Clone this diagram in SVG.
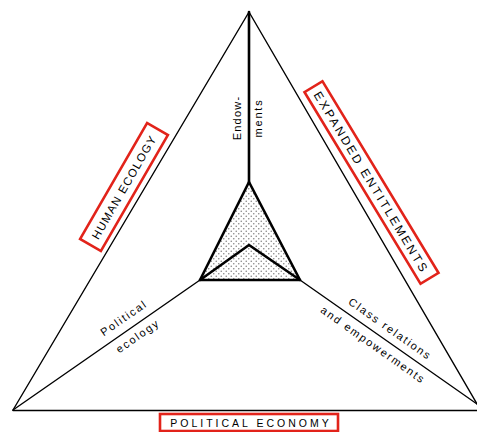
<svg xmlns="http://www.w3.org/2000/svg" width="477" height="432" viewBox="0 0 477 432">
<style>
.ln{stroke:#000;fill:none;stroke-linecap:round;stroke-linejoin:round}
.thin{stroke-width:1.4}
.thick{stroke-width:2.6}
.box{fill:#fff;stroke:#e2231a;stroke-width:2.6}
.t{font-family:"Liberation Sans",Arial,sans-serif;font-size:11px;fill:#000}
.cap{letter-spacing:1.2px}
</style>
<defs>
<pattern id="dots" width="5" height="5" patternUnits="userSpaceOnUse">
<rect width="5" height="5" fill="#fff"/>
<circle cx="1.25" cy="1.25" r="0.8" fill="#888"/>
<circle cx="3.75" cy="3.75" r="0.8" fill="#888"/>
</pattern>
</defs>
<rect width="477" height="432" fill="#fff"/>
<g id="connectors">
<path class="ln thin" d="M13,410 L249,12 L477,404"/>
<path class="ln thin" d="M13,410.5 L477,410.5"/>
<path class="ln thin" d="M13,410 L200,280"/>
<path class="ln thin" d="M300,280 L477,404"/>
<path class="ln thick" d="M249,12 L249,245"/>
</g>
<g id="inner">
<path d="M249,182 L200,280 L300,280 Z" fill="url(#dots)"/>
<path class="ln thick" d="M249,182 L200,280 L300,280 Z"/>
<path class="ln thick" d="M200,280 L249,245 L300,280"/>
</g>
<g id="endowments">
<text class="t" style="letter-spacing:1.2px" text-anchor="middle" transform="translate(241,118) rotate(-90)">Endow-</text>
<text class="t" style="letter-spacing:1.8px" text-anchor="middle" transform="translate(262,118) rotate(-90)">ments</text>
</g>
<g id="human-ecology" transform="translate(124,187) rotate(-60)">
<rect class="box" x="-67" y="-12" width="134" height="24"/>
<text class="t cap" style="font-size:11.5px" x="0" y="4.2" text-anchor="middle">HUMAN ECOLOGY</text>
</g>
<g id="expanded-entitlements" transform="translate(371.5,182.5) rotate(58.8)">
<rect class="box" x="-112" y="-10.5" width="224" height="21"/>
<text class="t" style="font-size:12px;letter-spacing:2.4px" x="0" y="4.3" text-anchor="middle">EXPANDED ENTITLEMENTS</text>
</g>
<g id="political-economy">
<rect class="box" x="160" y="414" width="178" height="17"/>
<text class="t" style="font-size:10.5px;letter-spacing:3px" x="251" y="427" text-anchor="middle">POLITICAL ECONOMY</text>
</g>
<g id="political-ecology">
<text class="t" style="letter-spacing:1.8px" text-anchor="middle" transform="translate(126,321) rotate(-34.8)">Political</text>
<text class="t" style="letter-spacing:1.8px" text-anchor="middle" transform="translate(140,339) rotate(-34.8)">ecology</text>
</g>
<g id="class-relations">
<text class="t" style="letter-spacing:1.8px" text-anchor="middle" transform="translate(388,332) rotate(35.2)">Class relations</text>
<text class="t" style="letter-spacing:1.8px" text-anchor="middle" transform="translate(371,348) rotate(35.2)">and empowerments</text>
</g>
</svg>
